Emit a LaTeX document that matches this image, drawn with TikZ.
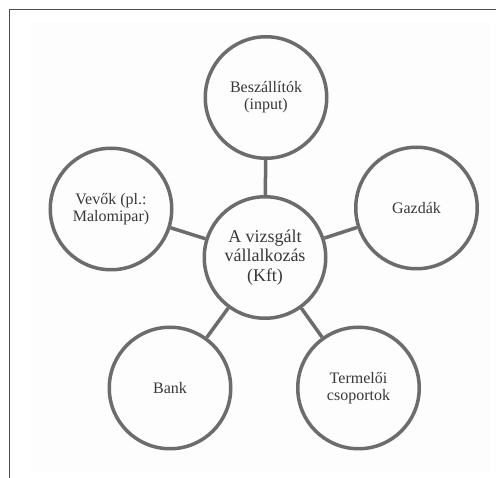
\documentclass[tikz,border=0pt]{standalone}
\usepackage{fontspec}
\setmainfont{Liberation Serif}
\definecolor{ringgray}{HTML}{6C6C6C}
\definecolor{textgray}{HTML}{383838}
\definecolor{framegray}{HTML}{505050}
\definecolor{paper}{HTML}{FDFDFD}
\begin{document}
\begin{tikzpicture}[x=1pt,y=-1pt,
  ring/.style={circle, draw=ringgray, line width=3.5pt, fill=paper, minimum size=121.5pt, inner sep=0pt, align=center, text=textgray, font=\fontsize{16}{17}\selectfont},
  hub/.style={ring, font=\fontsize{18}{19.5}\selectfont},
  link/.style={draw=ringgray, line width=3.5pt}]
\useasboundingbox (0,0) rectangle (496,478);
\fill[white] (0,0) rectangle (496,478);
\fill[paper] (31,22) rectangle (491,472);
\draw[framegray, line width=1.6pt] (9.5,478) -- (9.5,9.5) -- (496,9.5);
\node[hub]  (c) at (265,257.5) {A vizsgált\\vállalkozás\\(Kft)};
\node[ring] (t) at (266,97.5) {Beszállítók\\(input)};
\node[ring] (l) at (111,209) {Vevők (pl.:\\Malomipar)};
\node[ring] (r) at (416.5,208) {Gazdák};
\node[ring] (b) at (170,388) {Bank};
\node[ring] (p) at (358.5,388) {Termelői\\csoportok};
\foreach \n in {t,l,r,b,p} \draw[link] (c) -- (\n);
\end{tikzpicture}
\end{document}
